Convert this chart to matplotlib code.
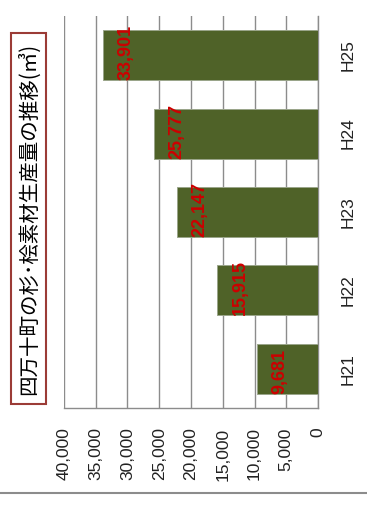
import matplotlib
matplotlib.use("Agg")
import matplotlib.pyplot as plt
from matplotlib.patches import Rectangle
from matplotlib.lines import Line2D

# data
years = ["H21", "H22", "H23", "H24", "H25"]
volumes = [9681, 15915, 22147, 25777, 33901]
value_ticks = [0, 5000, 10000, 15000, 20000, 25000, 30000, 35000, 40000]
title = "四万十町の杉･桧素材生産量の推移(㎥)"

num_fonts = ["Liberation Sans Narrow", "Liberation Sans", "DejaVu Sans"]

fig = plt.figure(figsize=(3.67, 5.05), dpi=100)
ax = fig.add_axes([64 / 367, 1 - 408 / 505, (318 - 64) / 367, (408 - 16) / 505])

pos = list(range(len(years)))
ax.barh(pos, volumes, height=0.64, color="#4f6228", edgecolor="#9aa58a",
        linewidth=0.7, zorder=3)

# axis: 0 on the right, 40,000 on the left
ax.set_xlim(40000, 0)
ax.set_ylim(-0.5, len(years) - 0.5)
ax.set_xticks(value_ticks)
ax.set_xticklabels([f"{v:,}" for v in value_ticks], rotation=90,
                   family=num_fonts, fontsize=12.5, color="#222222")
ax.set_yticks(pos)
ax.set_yticklabels(years, rotation=90, va="center", family=num_fonts,
                   fontsize=12.5, color="#222222")
ax.yaxis.tick_right()
ax.tick_params(axis="x", length=0, pad=14)
ax.tick_params(axis="y", length=0, pad=16)

ax.grid(axis="x", color="#8c8c8c", linewidth=1.0, zorder=0)
for s in ["top", "left"]:
    ax.spines[s].set_visible(False)
for s in ["right", "bottom"]:
    ax.spines[s].set_color("#8c8c8c")
    ax.spines[s].set_linewidth(1.0)

# red data labels, rotated with the chart
for p, v in zip(pos, volumes):
    ax.annotate(f"{v:,}", xy=(v, p - 0.32), xytext=(23, 0),
                textcoords="offset pixels", rotation=90, rotation_mode="anchor",
                ha="left", va="center", color="#cc0000", fontweight="bold",
                family=num_fonts, fontsize=13, zorder=5)

# title box on the left
fig.patches.append(Rectangle((11 / 367, 1 - 404 / 505), 35 / 367, 371 / 505,
                             transform=fig.transFigure, fill=False,
                             edgecolor="#9b3b36", linewidth=1.5))
fig.text(28.5 / 367, 1 - 219 / 505, title, rotation=90, ha="center", va="center",
         family=["Noto Sans CJK JP", "DejaVu Sans"], fontsize=14.8, color="black")

# grey rule near the bottom
fig.lines.append(Line2D([0, 1], [1 - 492.5 / 505, 1 - 492.5 / 505],
                        transform=fig.transFigure, color="#8c8c8c", linewidth=1.5))

fig.savefig("out.png", dpi=100)
